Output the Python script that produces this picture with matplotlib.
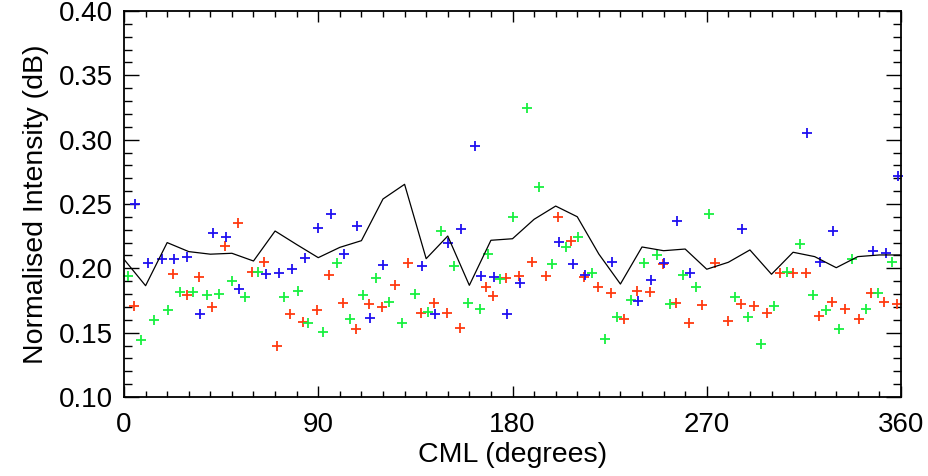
import matplotlib
matplotlib.use("Agg")
import matplotlib.pyplot as plt
from matplotlib.ticker import MultipleLocator

plt.rcParams['font.family'] = ['Liberation Sans', 'DejaVu Sans']

# Mean curve
line_cml = [0, 10, 20, 30, 40, 50, 60, 70, 80, 90, 100, 110, 120, 130, 140, 150, 160, 170, 180,
            190, 200, 210, 220, 230, 240, 250, 260, 270, 280, 290, 300, 310, 320, 330, 340, 350, 360]
line_val = [0.207, 0.1865, 0.220, 0.213, 0.211, 0.2117, 0.2057, 0.229, 0.2185, 0.2083, 0.2163,
            0.2215, 0.2539, 0.2653, 0.2075, 0.2251, 0.1868, 0.2218, 0.223, 0.2381, 0.2484,
            0.2401, 0.2111, 0.1878, 0.2166, 0.2137, 0.215, 0.1993, 0.2047, 0.2143, 0.1954,
            0.2125, 0.2091, 0.2005, 0.2091, 0.2104, 0.2104]

red_cml = [4.6, 22.9, 29.0, 34.7, 40.9, 46.8, 53.0, 59.2, 65.0, 71.0, 76.9, 83.1, 89.3, 95.1,
           101.3, 107.5, 113.4, 119.6, 125.6, 131.5, 137.5, 143.8, 149.7, 155.8, 167.7, 171.1,
           177.0, 183.2, 189.2, 195.4, 201.3, 207.1, 213.3, 219.5, 225.5, 231.7, 237.6, 243.7,
           249.6, 255.8, 261.8, 268.0, 273.9, 280.0, 285.9, 291.9, 298.1, 304.0, 310.1, 316.0,
           322.2, 328.2, 334.2, 340.4, 346.1, 352.3, 358.3]
red_val = [0.171, 0.1954, 0.1793, 0.1935, 0.1702, 0.2176, 0.2355, 0.1974, 0.2047, 0.1397,
           0.1643, 0.1585, 0.1676, 0.1948, 0.1728, 0.1529, 0.172, 0.1702, 0.1871, 0.2039,
           0.165, 0.1733, 0.165, 0.1534, 0.1853, 0.1788, 0.1923, 0.194, 0.2052, 0.1943,
           0.2401, 0.2215, 0.1935, 0.1853, 0.1806, 0.1604, 0.1826, 0.1814, 0.2031, 0.1728,
           0.1573, 0.1715, 0.2044, 0.1593, 0.172, 0.171, 0.1655, 0.1961, 0.1961, 0.1966,
           0.1632, 0.1741, 0.1682, 0.1604, 0.1811, 0.1736, 0.172]

green_cml = [2.0, 7.9, 14.0, 20.2, 25.9, 32.1, 38.3, 44.2, 50.2, 56.1, 62.2, 74.1, 80.8, 85.4,
             92.4, 98.5, 104.7, 110.6, 116.8, 122.9, 129.0, 134.8, 140.9, 146.9, 152.9, 159.3,
             165.0, 168.5, 174.2, 180.4, 186.6, 192.5, 198.5, 204.7, 210.5, 216.7, 222.9,
             228.6, 234.8, 241.0, 246.8, 253.0, 258.9, 265.1, 271.2, 283.1, 289.3, 295.2,
             301.3, 307.1, 313.1, 319.4, 325.3, 331.5, 337.5, 343.7, 349.5, 355.7]
green_val = [0.194, 0.144, 0.160, 0.1676, 0.1814, 0.1814, 0.1793, 0.180, 0.1904, 0.178, 0.1969,
             0.178, 0.1824, 0.1578, 0.1508, 0.2039, 0.1606, 0.179, 0.1922, 0.1741, 0.1573,
             0.1798, 0.166, 0.2293, 0.2021, 0.1733, 0.1682, 0.2109, 0.1915, 0.2401, 0.3249,
             0.2635, 0.2031, 0.2163, 0.2241, 0.1961, 0.1449, 0.1619, 0.1754, 0.2039, 0.2104,
             0.1723, 0.1948, 0.1853, 0.242, 0.178, 0.1619, 0.1412, 0.171, 0.1974, 0.2187,
             0.1793, 0.1676, 0.1529, 0.207, 0.1684, 0.1811, 0.2052]

blue_cml = [5.1, 11.3, 17.5, 23.2, 29.3, 35.2, 41.4, 47.3, 53.4, 65.7, 71.8, 77.7, 83.9, 89.8,
            95.9, 101.9, 108.1, 114.0, 120.2, 138.2, 144.1, 150.3, 156.3, 162.6, 165.4, 171.5,
            177.6, 183.5, 201.7, 207.9, 213.6, 226.3, 238.3, 244.2, 250.2, 256.4, 262.3,
            286.5, 316.6, 322.5, 328.7, 346.9, 353.0, 358.8]
blue_val = [0.250, 0.2044, 0.207, 0.207, 0.2086, 0.1643, 0.2272, 0.2246, 0.1837, 0.1954,
            0.1966, 0.1997, 0.2078, 0.2316, 0.2422, 0.2109, 0.2329, 0.1612, 0.2026, 0.2018,
            0.1643, 0.2199, 0.2303, 0.295, 0.194, 0.193, 0.1643, 0.1889, 0.2207, 0.2031,
            0.1948, 0.2052, 0.1749, 0.1909, 0.2044, 0.2368, 0.1961, 0.2303, 0.3054, 0.2052,
            0.229, 0.2135, 0.2122, 0.2718]

fig = plt.figure(figsize=(9.29, 4.76), dpi=100)
ax = fig.add_axes([124 / 929, 1 - 397 / 476, (901 - 124) / 929, (397 - 11) / 476])

ms = 7
mew = 1.3
ax.plot(red_cml, red_val, linestyle='none', marker='+', color='#ff3a10', ms=ms, mew=mew, clip_on=False)
ax.plot(green_cml, green_val, linestyle='none', marker='+', color='#18f040', ms=ms, mew=mew, clip_on=False)
ax.plot(blue_cml, blue_val, linestyle='none', marker='+', color='#2010f0', ms=ms, mew=mew, clip_on=False)
ax.plot(line_cml, line_val, color='black', lw=0.9)

ax.set_xlim(0, 360)
ax.set_ylim(0.10, 0.40)
ax.xaxis.set_major_locator(MultipleLocator(90))
ax.xaxis.set_minor_locator(MultipleLocator(10))
ax.yaxis.set_major_locator(MultipleLocator(0.05))
ax.yaxis.set_minor_locator(MultipleLocator(0.01))
ax.yaxis.set_major_formatter(matplotlib.ticker.FormatStrFormatter('%.2f'))

ax.tick_params(axis='both', which='both', direction='in', top=True, right=True, width=1.0,
               labelsize=20)
ax.tick_params(axis='x', which='major', length=8, pad=11)
ax.tick_params(axis='x', which='minor', length=4)
ax.tick_params(axis='y', which='major', length=11, pad=8)
ax.tick_params(axis='y', which='minor', length=6)
for s in ax.spines.values():
    s.set_linewidth(1.3)

ax.set_xlabel('CML (degrees)', fontsize=20.5, labelpad=3)
ax.set_ylabel('Normalised Intensity (dB)', fontsize=20.5, labelpad=7)

fig.savefig('out.png', dpi=100)
